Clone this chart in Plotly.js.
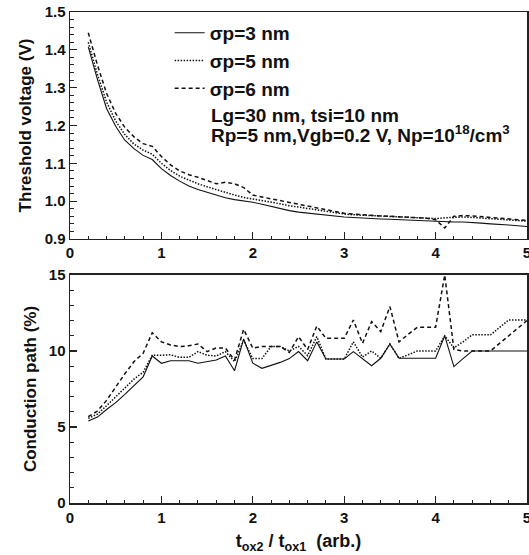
<!DOCTYPE html>
<html>
<head>
<meta charset="utf-8">
<script src="https://cdn.plot.ly/plotly-3.0.1.min.js"></script>
<style>html,body{margin:0;padding:0;background:#fff;}#chart{width:529px;height:555px;}</style>
</head>
<body>
<div id="chart"></div>
<script>
// ---- data ----
var ratio = [0.2,0.3,0.4,0.5,0.6,0.7,0.8,0.9,1.0,1.1,1.2,1.3,1.4,1.5,1.6,1.7,1.8,1.9,2.0,2.1,2.2,2.3,2.4,2.5,2.6,2.7,2.8,2.9,3.0,3.1,3.2,3.3,3.4,3.5,3.6,3.7,3.8,3.9,4.0,4.1,4.2,4.3,4.4,4.5,4.6,4.7,4.8,4.9,5.0];

var seriesNames = ["\u03c3p=3 nm", "\u03c3p=5 nm", "\u03c3p=6 nm"];

var vthSigma3 = [1.408,1.322,1.245,1.198,1.161,1.139,1.121,1.110,1.086,1.068,1.053,1.040,1.031,1.023,1.015,1.009,1.004,1.001,0.997,0.992,0.986,0.980,0.975,0.971,0.968,0.965,0.963,0.961,0.958,0.957,0.955,0.954,0.953,0.952,0.951,0.950,0.948,0.947,0.946,0.946,0.945,0.945,0.944,0.942,0.940,0.939,0.937,0.935,0.933];
var vthSigma5 = [1.420,1.335,1.262,1.212,1.176,1.151,1.135,1.124,1.100,1.081,1.066,1.055,1.046,1.038,1.030,1.024,1.016,1.010,1.006,1.003,0.998,0.993,0.988,0.984,0.980,0.977,0.973,0.969,0.966,0.964,0.963,0.962,0.960,0.959,0.958,0.957,0.956,0.955,0.954,0.956,0.958,0.958,0.957,0.955,0.953,0.951,0.950,0.949,0.947];
var vthSigma6 = [1.445,1.360,1.285,1.232,1.195,1.170,1.152,1.145,1.118,1.096,1.080,1.070,1.063,1.055,1.046,1.050,1.046,1.036,1.016,1.011,1.006,1.001,0.996,0.992,0.986,0.983,0.978,0.972,0.968,0.966,0.964,0.962,0.961,0.960,0.959,0.958,0.957,0.955,0.951,0.929,0.960,0.962,0.961,0.959,0.957,0.955,0.952,0.950,0.949];

var cpSigma3 = [5.40,5.65,6.15,6.60,7.15,7.75,8.30,9.67,9.19,9.36,9.36,9.36,9.19,9.30,9.41,9.67,8.70,10.80,9.20,8.86,9.05,9.25,9.50,9.96,9.36,10.60,9.47,9.47,9.47,9.96,9.52,9.03,9.52,10.46,9.52,9.52,9.52,9.52,9.52,11.00,8.97,9.50,10.00,10.00,10.00,10.00,10.00,10.00,10.00];
var cpSigma5 = [5.57,5.85,6.40,7.00,7.60,8.15,8.60,9.72,9.72,9.75,9.58,9.58,9.96,9.72,9.67,9.96,9.30,10.70,9.50,9.50,10.30,10.30,10.00,10.30,9.70,10.94,9.47,9.47,9.47,10.60,9.60,10.00,9.52,10.46,9.52,9.75,10.00,10.00,10.00,11.00,10.20,10.60,11.06,11.06,11.06,11.55,12.04,12.04,12.04];
var cpSigma6 = [5.68,6.05,6.75,7.65,8.50,9.30,9.85,11.20,10.60,10.40,10.28,10.35,10.46,9.96,10.20,10.20,9.40,11.43,10.18,10.30,10.30,10.30,9.90,10.94,10.10,11.64,10.83,10.83,10.83,12.04,10.50,11.93,11.28,12.92,10.60,11.10,11.56,11.56,11.56,15.00,10.10,10.00,10.00,10.00,10.00,10.50,11.00,11.50,12.00];

var xTickVals = [0,1,2,3,4,5];
var vthTickVals = [0.9,1.0,1.1,1.2,1.3,1.4,1.5];
var cpTickVals = [0,5,10,15];

// ---- styles ----
var FONT = "Liberation Sans, Arial, Helvetica, sans-serif";
var lineStyles = [
  {color:"#111", width:1.1, dash:"solid"},
  {color:"#111", width:1.5, dash:"1.5px,1.5px"},
  {color:"#111", width:1.5, dash:"4px,3px"}
];
var vthSets = [vthSigma3, vthSigma5, vthSigma6];
var cpSets = [cpSigma3, cpSigma5, cpSigma6];

var traces = [];
for (var i = 0; i < 3; i++) {
  traces.push({x: ratio, y: vthSets[i], type: "scatter", mode: "lines", name: seriesNames[i],
    line: lineStyles[i], xaxis: "x", yaxis: "y", showlegend: true});
}
for (var j = 0; j < 3; j++) {
  traces.push({x: ratio, y: cpSets[j], type: "scatter", mode: "lines", name: seriesNames[j],
    line: lineStyles[j], xaxis: "x2", yaxis: "y2", showlegend: false});
}

function axisBase() {
  return {
    showline: true, mirror: true, linecolor: "#222", linewidth: 1.5,
    showgrid: false, zeroline: false,
    ticks: "inside", ticklen: 7, tickwidth: 1.2, tickcolor: "#222",
    ticklabeloverflow: "allow",
    tickfont: {family: FONT, size: 15, color: "#111", weight: "bold"}
  };
}

var xa = axisBase();
xa.range = [0, 5]; xa.tickvals = xTickVals; xa.anchor = "y";
xa.minor = {dtick: 0.2, ticks: "inside", ticklen: 3, tickwidth: 1, tickcolor: "#222"};
var xa2 = axisBase();
xa2.range = [0, 5]; xa2.tickvals = xTickVals; xa2.anchor = "y2";
xa2.minor = {dtick: 0.2, ticks: "inside", ticklen: 3, tickwidth: 1, tickcolor: "#222"};
xa2.title = {text: "t<sub>ox2</sub> / t<sub>ox1</sub>  (arb.)", font: {family: FONT, size: 18, color: "#111", weight: "bold"}, standoff: 10};

var ya = axisBase();
ya.range = [0.9, 1.5]; ya.tickvals = vthTickVals; ya.tickformat = ".1f"; ya.domain = [0.5377, 1]; ya.anchor = "x";
ya.minor = {dtick: 0.02, ticks: "inside", ticklen: 4, tickwidth: 1, tickcolor: "#222"};
ya.title = {text: "Threshold voltage (V)", font: {family: FONT, size: 17, color: "#111", weight: "bold"}, standoff: 8};

var ya2 = axisBase();
ya2.range = [0, 15]; ya2.tickvals = cpTickVals; ya2.domain = [0, 0.4644]; ya2.anchor = "x2";
ya2.minor = {dtick: 1, ticks: "inside", ticklen: 4, tickwidth: 1, tickcolor: "#222"};
ya2.title = {text: "Conduction path (%)", font: {family: FONT, size: 17, color: "#111", weight: "bold"}, standoff: 8};

var layout = {
  width: 529, height: 555,
  margin: {l: 70, r: 2, t: 12, b: 52},
  paper_bgcolor: "#fff", plot_bgcolor: "#fff",
  font: {family: FONT, color: "#111", weight: "bold"},
  showlegend: true,
  legend: {x: 0.218, y: 0.996, xanchor: "left", yanchor: "top", bgcolor: "rgba(0,0,0,0)",
    font: {family: FONT, size: 19, color: "#111", weight: "bold"}, itemwidth: 30, tracegroupgap: 0},
  xaxis: xa, yaxis: ya, xaxis2: xa2, yaxis2: ya2,
  annotations: [
    {xref: "paper", yref: "paper", x: 0.305, y: 0.79, xanchor: "left", yanchor: "middle", showarrow: false,
     text: "Lg=30 nm, tsi=10 nm", font: {family: FONT, size: 19, color: "#111", weight: "bold"}},
    {xref: "paper", yref: "paper", x: 0.305, y: 0.751, xanchor: "left", yanchor: "middle", showarrow: false,
     text: "Rp=5 nm,Vgb=0.2 V, Np=10<sup>18</sup>/cm<sup>3</sup>", font: {family: FONT, size: 19, color: "#111", weight: "bold"}}
  ]
};

Plotly.newPlot("chart", traces, layout, {displayModeBar: false, staticPlot: true});
</script>
</body>
</html>
